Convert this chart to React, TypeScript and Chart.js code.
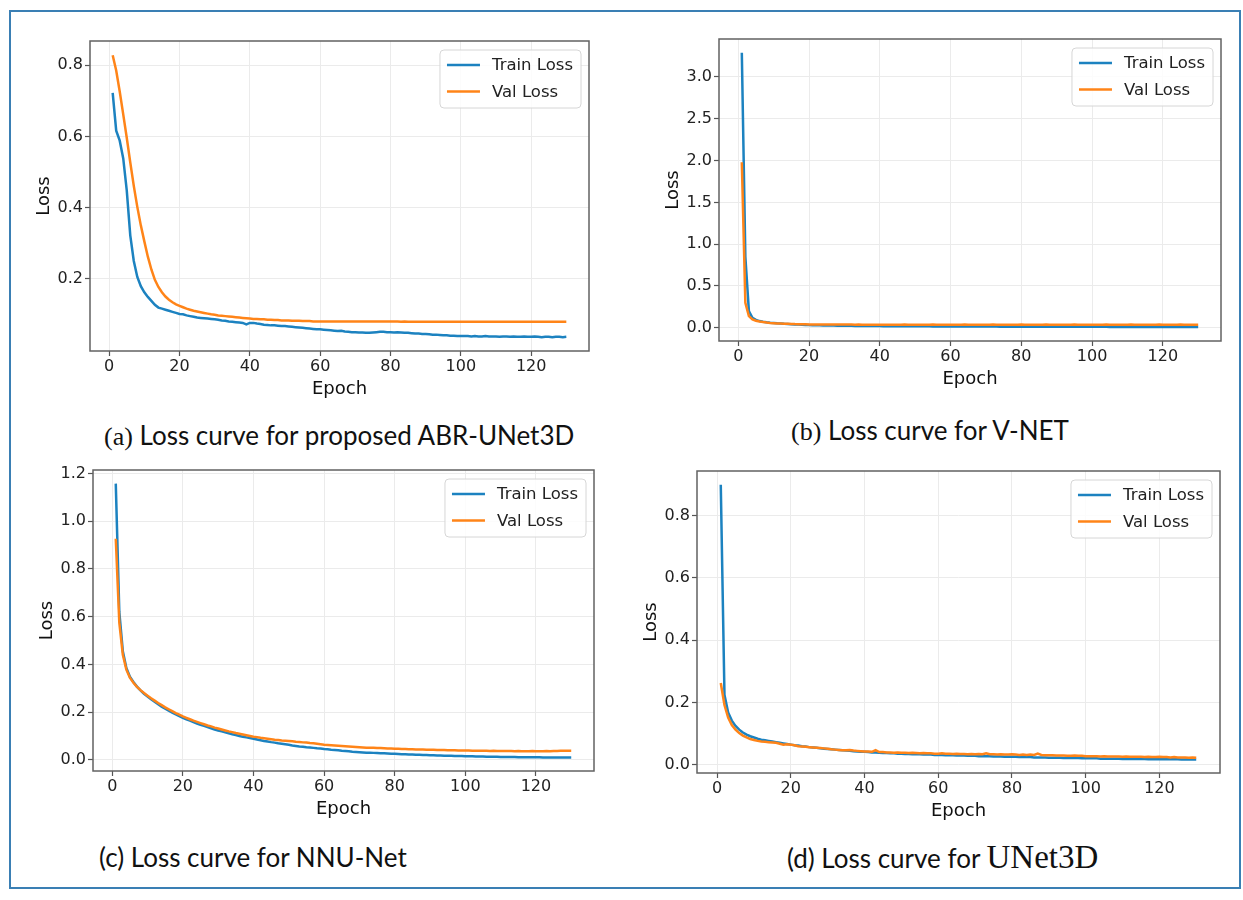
import React, { useEffect, useRef } from "react";
import { Chart, registerables } from "chart.js";

Chart.register(...registerables);

// ---------------- data ----------------
const EPOCHS: number[] = Array.from({ length: 130 }, (_, i) => i + 1);
const X_TICKS = [0, 20, 40, 60, 80, 100, 120];
const SERIES_LABELS = ["Train Loss", "Val Loss"];

const A_TRAIN = [
  0.722, 0.616, 0.588, 0.538, 0.448, 0.322, 0.250, 0.205, 0.179, 0.162,
  0.149, 0.138, 0.127, 0.119, 0.116, 0.113, 0.110, 0.107, 0.104, 0.101,
  0.100, 0.097, 0.095, 0.093, 0.091, 0.090, 0.089, 0.088, 0.087, 0.086,
  0.085, 0.083, 0.082, 0.080, 0.079, 0.078, 0.077, 0.076, 0.072, 0.076,
  0.076, 0.074, 0.073, 0.071, 0.070, 0.069, 0.069, 0.068, 0.067, 0.067,
  0.066, 0.065, 0.064, 0.063, 0.062, 0.061, 0.060, 0.059, 0.058, 0.058,
  0.057, 0.056, 0.055, 0.054, 0.053, 0.054, 0.052, 0.051, 0.050, 0.050,
  0.049, 0.049, 0.048, 0.048, 0.049, 0.050, 0.051, 0.051, 0.050, 0.050,
  0.049, 0.050, 0.049, 0.048, 0.048, 0.047, 0.046, 0.046, 0.045, 0.045,
  0.044, 0.043, 0.043, 0.042, 0.041, 0.041, 0.040, 0.040, 0.039, 0.039,
  0.039, 0.039, 0.038, 0.039, 0.038, 0.038, 0.039, 0.038, 0.038, 0.038,
  0.037, 0.038, 0.038, 0.037, 0.038, 0.037, 0.037, 0.038, 0.037, 0.037,
  0.038, 0.037, 0.036, 0.037, 0.037, 0.036, 0.037, 0.037, 0.036, 0.037,
];
const A_VAL = [
  0.828, 0.785, 0.726, 0.662, 0.596, 0.527, 0.461, 0.402, 0.350, 0.305,
  0.262, 0.226, 0.197, 0.177, 0.162, 0.150, 0.141, 0.134, 0.128, 0.124,
  0.120, 0.116, 0.113, 0.110, 0.108, 0.106, 0.104, 0.102, 0.100, 0.099,
  0.097, 0.096, 0.095, 0.094, 0.093, 0.092, 0.091, 0.090, 0.089, 0.088,
  0.087, 0.087, 0.086, 0.086, 0.085, 0.085, 0.084, 0.084, 0.083, 0.083,
  0.083, 0.082, 0.082, 0.082, 0.081, 0.081, 0.081, 0.080, 0.080, 0.080,
  0.080, 0.080, 0.080, 0.080, 0.080, 0.080, 0.080, 0.080, 0.080, 0.080,
  0.080, 0.080, 0.080, 0.080, 0.080, 0.080, 0.080, 0.080, 0.080, 0.080,
  0.080, 0.080, 0.079, 0.080, 0.079, 0.079, 0.079, 0.079, 0.079, 0.079,
  0.079, 0.079, 0.079, 0.079, 0.079, 0.079, 0.079, 0.079, 0.079, 0.079,
  0.079, 0.079, 0.079, 0.079, 0.079, 0.079, 0.079, 0.079, 0.079, 0.079,
  0.079, 0.079, 0.079, 0.079, 0.079, 0.079, 0.079, 0.079, 0.079, 0.079,
  0.079, 0.079, 0.079, 0.079, 0.079, 0.079, 0.079, 0.079, 0.079, 0.079,
];

const B_TRAIN = [
  3.290, 0.850, 0.200, 0.120, 0.095, 0.080, 0.072, 0.066, 0.061, 0.057,
  0.053, 0.050, 0.047, 0.045, 0.043, 0.040, 0.038, 0.036, 0.034, 0.032,
  0.031, 0.030, 0.029, 0.028, 0.027, 0.026, 0.026, 0.025, 0.024, 0.024,
  0.023, 0.023, 0.022, 0.022, 0.021, 0.021, 0.021, 0.020, 0.020, 0.020,
  0.019, 0.019, 0.019, 0.019, 0.018, 0.018, 0.018, 0.018, 0.018, 0.017,
  0.017, 0.017, 0.017, 0.017, 0.016, 0.016, 0.016, 0.016, 0.016, 0.016,
  0.015, 0.015, 0.015, 0.015, 0.015, 0.015, 0.014, 0.014, 0.014, 0.014,
  0.014, 0.014, 0.014, 0.013, 0.013, 0.013, 0.013, 0.013, 0.013, 0.013,
  0.012, 0.012, 0.012, 0.012, 0.012, 0.012, 0.012, 0.012, 0.012, 0.011,
  0.011, 0.011, 0.011, 0.011, 0.011, 0.011, 0.011, 0.011, 0.011, 0.011,
  0.011, 0.011, 0.011, 0.011, 0.010, 0.010, 0.010, 0.010, 0.010, 0.010,
  0.010, 0.010, 0.010, 0.010, 0.010, 0.010, 0.010, 0.010, 0.010, 0.010,
  0.010, 0.010, 0.010, 0.009, 0.009, 0.009, 0.009, 0.009, 0.009, 0.009,
];
const B_VAL = [
  1.980, 0.300, 0.140, 0.100, 0.085, 0.075, 0.068, 0.062, 0.058, 0.055,
  0.052, 0.050, 0.048, 0.047, 0.046, 0.044, 0.043, 0.042, 0.041, 0.040,
  0.040, 0.040, 0.039, 0.039, 0.039, 0.039, 0.038, 0.038, 0.038, 0.038,
  0.038, 0.038, 0.037, 0.038, 0.037, 0.037, 0.037, 0.037, 0.037, 0.037,
  0.037, 0.036, 0.037, 0.037, 0.036, 0.037, 0.038, 0.037, 0.036, 0.037,
  0.037, 0.037, 0.036, 0.037, 0.038, 0.037, 0.037, 0.036, 0.037, 0.037,
  0.036, 0.037, 0.037, 0.038, 0.037, 0.036, 0.037, 0.037, 0.037, 0.036,
  0.037, 0.038, 0.037, 0.037, 0.036, 0.037, 0.037, 0.036, 0.037, 0.038,
  0.037, 0.037, 0.036, 0.037, 0.037, 0.037, 0.038, 0.037, 0.036, 0.037,
  0.037, 0.036, 0.037, 0.037, 0.038, 0.037, 0.037, 0.036, 0.037, 0.037,
  0.037, 0.036, 0.037, 0.038, 0.037, 0.037, 0.036, 0.037, 0.037, 0.037,
  0.038, 0.037, 0.036, 0.037, 0.037, 0.037, 0.036, 0.037, 0.038, 0.037,
  0.037, 0.036, 0.037, 0.037, 0.038, 0.037, 0.037, 0.036, 0.037, 0.037,
];

const C_TRAIN = [
  1.158, 0.620, 0.455, 0.385, 0.348, 0.326, 0.307, 0.291, 0.277, 0.265,
  0.254, 0.243, 0.233, 0.223, 0.214, 0.206, 0.198, 0.190, 0.183, 0.176,
  0.170, 0.164, 0.158, 0.152, 0.147, 0.142, 0.137, 0.132, 0.127, 0.123,
  0.119, 0.115, 0.111, 0.107, 0.104, 0.100, 0.097, 0.094, 0.091, 0.088,
  0.085, 0.082, 0.079, 0.077, 0.074, 0.072, 0.069, 0.067, 0.065, 0.063,
  0.060, 0.058, 0.056, 0.055, 0.053, 0.052, 0.050, 0.048, 0.047, 0.045,
  0.044, 0.042, 0.041, 0.040, 0.038, 0.037, 0.036, 0.034, 0.033, 0.032,
  0.031, 0.030, 0.030, 0.029, 0.028, 0.027, 0.027, 0.026, 0.025, 0.025,
  0.024, 0.023, 0.023, 0.022, 0.022, 0.021, 0.021, 0.020, 0.020, 0.019,
  0.019, 0.018, 0.018, 0.017, 0.017, 0.017, 0.016, 0.016, 0.016, 0.015,
  0.015, 0.015, 0.014, 0.014, 0.014, 0.013, 0.013, 0.013, 0.013, 0.012,
  0.012, 0.012, 0.012, 0.012, 0.011, 0.011, 0.011, 0.011, 0.011, 0.011,
  0.011, 0.010, 0.010, 0.010, 0.010, 0.010, 0.010, 0.010, 0.010, 0.010,
];
const C_VAL = [
  0.927, 0.575, 0.440, 0.378, 0.344, 0.323, 0.306, 0.292, 0.280, 0.269,
  0.258, 0.248, 0.238, 0.229, 0.220, 0.212, 0.204, 0.196, 0.189, 0.182,
  0.176, 0.170, 0.164, 0.159, 0.154, 0.149, 0.144, 0.140, 0.135, 0.131,
  0.127, 0.123, 0.119, 0.116, 0.112, 0.109, 0.106, 0.103, 0.100, 0.097,
  0.095, 0.092, 0.090, 0.088, 0.086, 0.084, 0.083, 0.081, 0.080, 0.079,
  0.078, 0.076, 0.075, 0.073, 0.072, 0.070, 0.069, 0.067, 0.065, 0.063,
  0.062, 0.061, 0.060, 0.059, 0.058, 0.057, 0.056, 0.055, 0.054, 0.053,
  0.052, 0.051, 0.051, 0.050, 0.049, 0.049, 0.048, 0.047, 0.047, 0.046,
  0.046, 0.045, 0.045, 0.044, 0.044, 0.043, 0.043, 0.043, 0.042, 0.042,
  0.042, 0.041, 0.041, 0.041, 0.040, 0.040, 0.040, 0.039, 0.039, 0.039,
  0.039, 0.038, 0.038, 0.038, 0.038, 0.038, 0.037, 0.038, 0.037, 0.037,
  0.037, 0.037, 0.037, 0.036, 0.037, 0.036, 0.036, 0.036, 0.037, 0.036,
  0.036, 0.036, 0.037, 0.036, 0.037, 0.037, 0.038, 0.038, 0.038, 0.038,
];

const D_TRAIN = [
  0.899, 0.225, 0.168, 0.142, 0.125, 0.113, 0.104, 0.097, 0.092, 0.088,
  0.084, 0.081, 0.079, 0.077, 0.075, 0.073, 0.071, 0.069, 0.067, 0.065,
  0.063, 0.062, 0.060, 0.059, 0.057, 0.056, 0.055, 0.053, 0.052, 0.051,
  0.050, 0.049, 0.048, 0.047, 0.046, 0.045, 0.044, 0.043, 0.042, 0.042,
  0.041, 0.040, 0.040, 0.039, 0.038, 0.038, 0.037, 0.037, 0.036, 0.036,
  0.035, 0.035, 0.034, 0.034, 0.034, 0.033, 0.033, 0.033, 0.032, 0.032,
  0.032, 0.031, 0.031, 0.031, 0.030, 0.030, 0.030, 0.029, 0.029, 0.029,
  0.028, 0.028, 0.028, 0.028, 0.027, 0.027, 0.027, 0.026, 0.026, 0.026,
  0.026, 0.025, 0.025, 0.025, 0.025, 0.024, 0.024, 0.024, 0.024, 0.023,
  0.023, 0.023, 0.023, 0.022, 0.022, 0.022, 0.022, 0.022, 0.021, 0.021,
  0.021, 0.021, 0.021, 0.020, 0.020, 0.020, 0.020, 0.020, 0.020, 0.019,
  0.019, 0.019, 0.019, 0.019, 0.019, 0.019, 0.018, 0.018, 0.018, 0.018,
  0.018, 0.018, 0.018, 0.018, 0.018, 0.017, 0.017, 0.018, 0.017, 0.017,
];
const D_VAL = [
  0.263, 0.192, 0.152, 0.128, 0.113, 0.102, 0.094, 0.088, 0.083, 0.080,
  0.077, 0.075, 0.074, 0.073, 0.072, 0.071, 0.068, 0.065, 0.066, 0.065,
  0.063, 0.060, 0.059, 0.058, 0.057, 0.056, 0.055, 0.054, 0.053, 0.052,
  0.050, 0.049, 0.048, 0.047, 0.047, 0.048, 0.046, 0.045, 0.044, 0.043,
  0.043, 0.042, 0.047, 0.041, 0.041, 0.040, 0.040, 0.039, 0.040, 0.039,
  0.039, 0.038, 0.039, 0.038, 0.037, 0.038, 0.037, 0.037, 0.036, 0.036,
  0.037, 0.036, 0.036, 0.035, 0.036, 0.035, 0.035, 0.034, 0.035, 0.034,
  0.035, 0.034, 0.037, 0.034, 0.034, 0.033, 0.034, 0.033, 0.033, 0.034,
  0.033, 0.032, 0.033, 0.032, 0.033, 0.032, 0.036, 0.032, 0.031, 0.031,
  0.031, 0.030, 0.030, 0.030, 0.029, 0.029, 0.030, 0.029, 0.029, 0.028,
  0.028, 0.028, 0.028, 0.027, 0.028, 0.027, 0.027, 0.027, 0.027, 0.026,
  0.027, 0.026, 0.026, 0.026, 0.026, 0.025, 0.026, 0.025, 0.025, 0.026,
  0.025, 0.025, 0.024, 0.025, 0.024, 0.024, 0.024, 0.023, 0.024, 0.023,
];

const A_Y_TICKS = [0.2, 0.4, 0.6, 0.8];
const B_Y_TICKS = [0.0, 0.5, 1.0, 1.5, 2.0, 2.5, 3.0];
const C_Y_TICKS = [0.0, 0.2, 0.4, 0.6, 0.8, 1.0, 1.2];
const D_Y_TICKS = [0.0, 0.2, 0.4, 0.6, 0.8];

// ---------------- styles / layout ----------------
const BLUE = "#1c82c0";
const ORANGE = "#ff8418";
const FONT = "'DejaVu Sans', sans-serif";
const X_MIN = -5.45;
const X_MAX = 136.45;
const Y_AXIS_W = 70;
const X_AXIS_H = 59;
const PAD = 16;

type Rect = { l: number; t: number; r: number; b: number };
type Panel = {
  train: number[];
  val: number[];
  yTicks: number[];
  yMin: number;
  yMax: number;
  plot: Rect;
};

const PANELS: Panel[] = [
  { train: A_TRAIN, val: A_VAL, yTicks: A_Y_TICKS, yMin: -0.003, yMax: 0.868, plot: { l: 90, t: 41, r: 589, b: 351 } },
  { train: B_TRAIN, val: B_VAL, yTicks: B_Y_TICKS, yMin: -0.158, yMax: 3.454, plot: { l: 719, t: 39, r: 1221, b: 341 } },
  { train: C_TRAIN, val: C_VAL, yTicks: C_Y_TICKS, yMin: -0.047, yMax: 1.215, plot: { l: 93, t: 470, r: 594, b: 771 } },
  { train: D_TRAIN, val: D_VAL, yTicks: D_Y_TICKS, yMin: -0.026, yMax: 0.943, plot: { l: 697, t: 471, r: 1220, b: 773 } },
];

const framePlugin = {
  id: "mplFrame",
  afterDraw(chart: any) {
    const { ctx, chartArea: a } = chart;
    ctx.save();
    ctx.strokeStyle = "#626262";
    ctx.lineWidth = 1.5;
    ctx.strokeRect(a.left, a.top, a.right - a.left, a.bottom - a.top);
    ctx.restore();
  },
};

const legendPlugin = {
  id: "mplLegend",
  afterDraw(chart: any) {
    const { ctx, chartArea: a } = chart;
    ctx.save();
    ctx.font = `16.5px ${FONT}`;
    const tw = Math.max(...SERIES_LABELS.map((s) => ctx.measureText(s).width));
    const w = 52 + tw + 8;
    const h = 58;
    const x = a.right - 8 - w;
    const y = a.top + 9;
    const rr = 4;
    ctx.beginPath();
    ctx.moveTo(x + rr, y);
    ctx.lineTo(x + w - rr, y);
    ctx.quadraticCurveTo(x + w, y, x + w, y + rr);
    ctx.lineTo(x + w, y + h - rr);
    ctx.quadraticCurveTo(x + w, y + h, x + w - rr, y + h);
    ctx.lineTo(x + rr, y + h);
    ctx.quadraticCurveTo(x, y + h, x, y + h - rr);
    ctx.lineTo(x, y + rr);
    ctx.quadraticCurveTo(x, y, x + rr, y);
    ctx.closePath();
    ctx.fillStyle = "rgba(255,255,255,0.85)";
    ctx.fill();
    ctx.strokeStyle = "#d6d6d6";
    ctx.lineWidth = 1;
    ctx.stroke();
    chart.data.datasets.forEach((ds: any, i: number) => {
      const ry = y + 15 + i * 26.5;
      ctx.strokeStyle = ds.borderColor;
      ctx.lineWidth = 2.5;
      ctx.beginPath();
      ctx.moveTo(x + 7, ry);
      ctx.lineTo(x + 40, ry);
      ctx.stroke();
      ctx.fillStyle = "#222";
      ctx.textBaseline = "middle";
      ctx.textAlign = "left";
      ctx.fillText(ds.label, x + 52, ry + 1);
    });
    ctx.restore();
  },
};

function LossChart({ panel }: { panel: Panel }) {
  const ref = useRef<HTMLCanvasElement>(null);
  const { l, t, r, b } = panel.plot;
  const cx = l - Y_AXIS_W;
  const cy = t - PAD;
  const cw = r - l + Y_AXIS_W + PAD;
  const ch = b - t + PAD + X_AXIS_H;

  useEffect(() => {
    if (!ref.current) return;
    const gridCommon = {
      color: "#ebebeb",
      lineWidth: 1,
      drawTicks: true,
      tickLength: 5,
      tickColor: "#555",
      tickWidth: 1.2,
    };
    const chart = new Chart(ref.current, {
      type: "line",
      data: {
        datasets: [
          {
            label: SERIES_LABELS[0],
            data: EPOCHS.map((x, i) => ({ x, y: panel.train[i] })),
            borderColor: BLUE,
            backgroundColor: BLUE,
            borderWidth: 2.5,
            pointRadius: 0,
            tension: 0,
            order: 2,
          },
          {
            label: SERIES_LABELS[1],
            data: EPOCHS.map((x, i) => ({ x, y: panel.val[i] })),
            borderColor: ORANGE,
            backgroundColor: ORANGE,
            borderWidth: 2.5,
            pointRadius: 0,
            tension: 0,
            order: 1,
          },
        ],
      },
      options: {
        responsive: false,
        animation: false,
        events: [],
        layout: { padding: { top: PAD, right: PAD, left: 0, bottom: 0 } },
        plugins: {
          legend: { display: false },
          tooltip: { enabled: false },
        },
        scales: {
          x: {
            type: "linear",
            min: X_MIN,
            max: X_MAX,
            afterBuildTicks: (s: any) => {
              s.ticks = X_TICKS.map((v) => ({ value: v }));
            },
            afterFit: (s: any) => {
              s.height = X_AXIS_H;
            },
            ticks: {
              autoSkip: false,
              maxRotation: 0,
              padding: 1,
              color: "#222",
              font: { family: FONT, size: 16 },
              callback: (v: any) => String(v),
            },
            grid: gridCommon,
            border: { display: false },
            title: {
              display: true,
              text: "Epoch",
              color: "#111",
              font: { family: FONT, size: 18 },
              padding: { top: 0, bottom: 9.7 },
            },
          },
          y: {
            type: "linear",
            min: panel.yMin,
            max: panel.yMax,
            afterBuildTicks: (s: any) => {
              s.ticks = panel.yTicks.map((v) => ({ value: v }));
            },
            afterFit: (s: any) => {
              s.width = Y_AXIS_W;
            },
            ticks: {
              autoSkip: false,
              padding: 2,
              color: "#222",
              font: { family: FONT, size: 16 },
              callback: (v: any) => Number(v).toFixed(1),
            },
            grid: gridCommon,
            border: { display: false },
            title: {
              display: true,
              text: "Loss",
              color: "#111",
              font: { family: FONT, size: 18 },
              padding: { top: 13.2, bottom: 0 },
            },
          },
        },
      },
      plugins: [framePlugin, legendPlugin],
    } as any);
    return () => chart.destroy();
  }, []);

  return (
    <canvas
      ref={ref}
      width={cw}
      height={ch}
      style={{ position: "absolute", left: cx, top: cy, width: cw, height: ch }}
    />
  );
}

const CAPTION_FONT = "Lato, 'Open Sans', sans-serif";
const SERIF = "'Liberation Serif', 'DejaVu Serif', serif";

function Caption({ left, cy, children }: { left: number; cy: number; children: React.ReactNode }) {
  return (
    <div
      style={{
        position: "absolute",
        left,
        top: cy - 17,
        height: 34,
        lineHeight: "34px",
        fontFamily: CAPTION_FONT,
        fontSize: 26,
        color: "#111",
        whiteSpace: "nowrap",
      }}
    >
      {children}
    </div>
  );
}

export default function App() {
  return (
    <div style={{ position: "absolute", left: 0, top: 0, width: 1243, height: 900, background: "#fff", overflow: "hidden" }}>
      <div
        style={{
          position: "absolute",
          left: 9,
          top: 10,
          width: 1232,
          height: 879,
          boxSizing: "border-box",
          border: "2.5px solid #3a7fb4",
        }}
      />
      {PANELS.map((p, i) => (
        <LossChart key={i} panel={p} />
      ))}
      <Caption left={104} cy={435}>
        <span style={{ fontFamily: SERIF }}>(a)</span> Loss curve for proposed ABR-UNet3D
      </Caption>
      <Caption left={791} cy={430}>
        <span style={{ fontFamily: SERIF }}>(b)</span> Loss curve for V-NET
      </Caption>
      <Caption left={99} cy={857}>
        (c) Loss curve for NNU-Net
      </Caption>
      <Caption left={787} cy={857}>
        (d) Loss curve for <span style={{ fontFamily: SERIF, fontSize: 33 }}>UNet3D</span>
      </Caption>
    </div>
  );
}
